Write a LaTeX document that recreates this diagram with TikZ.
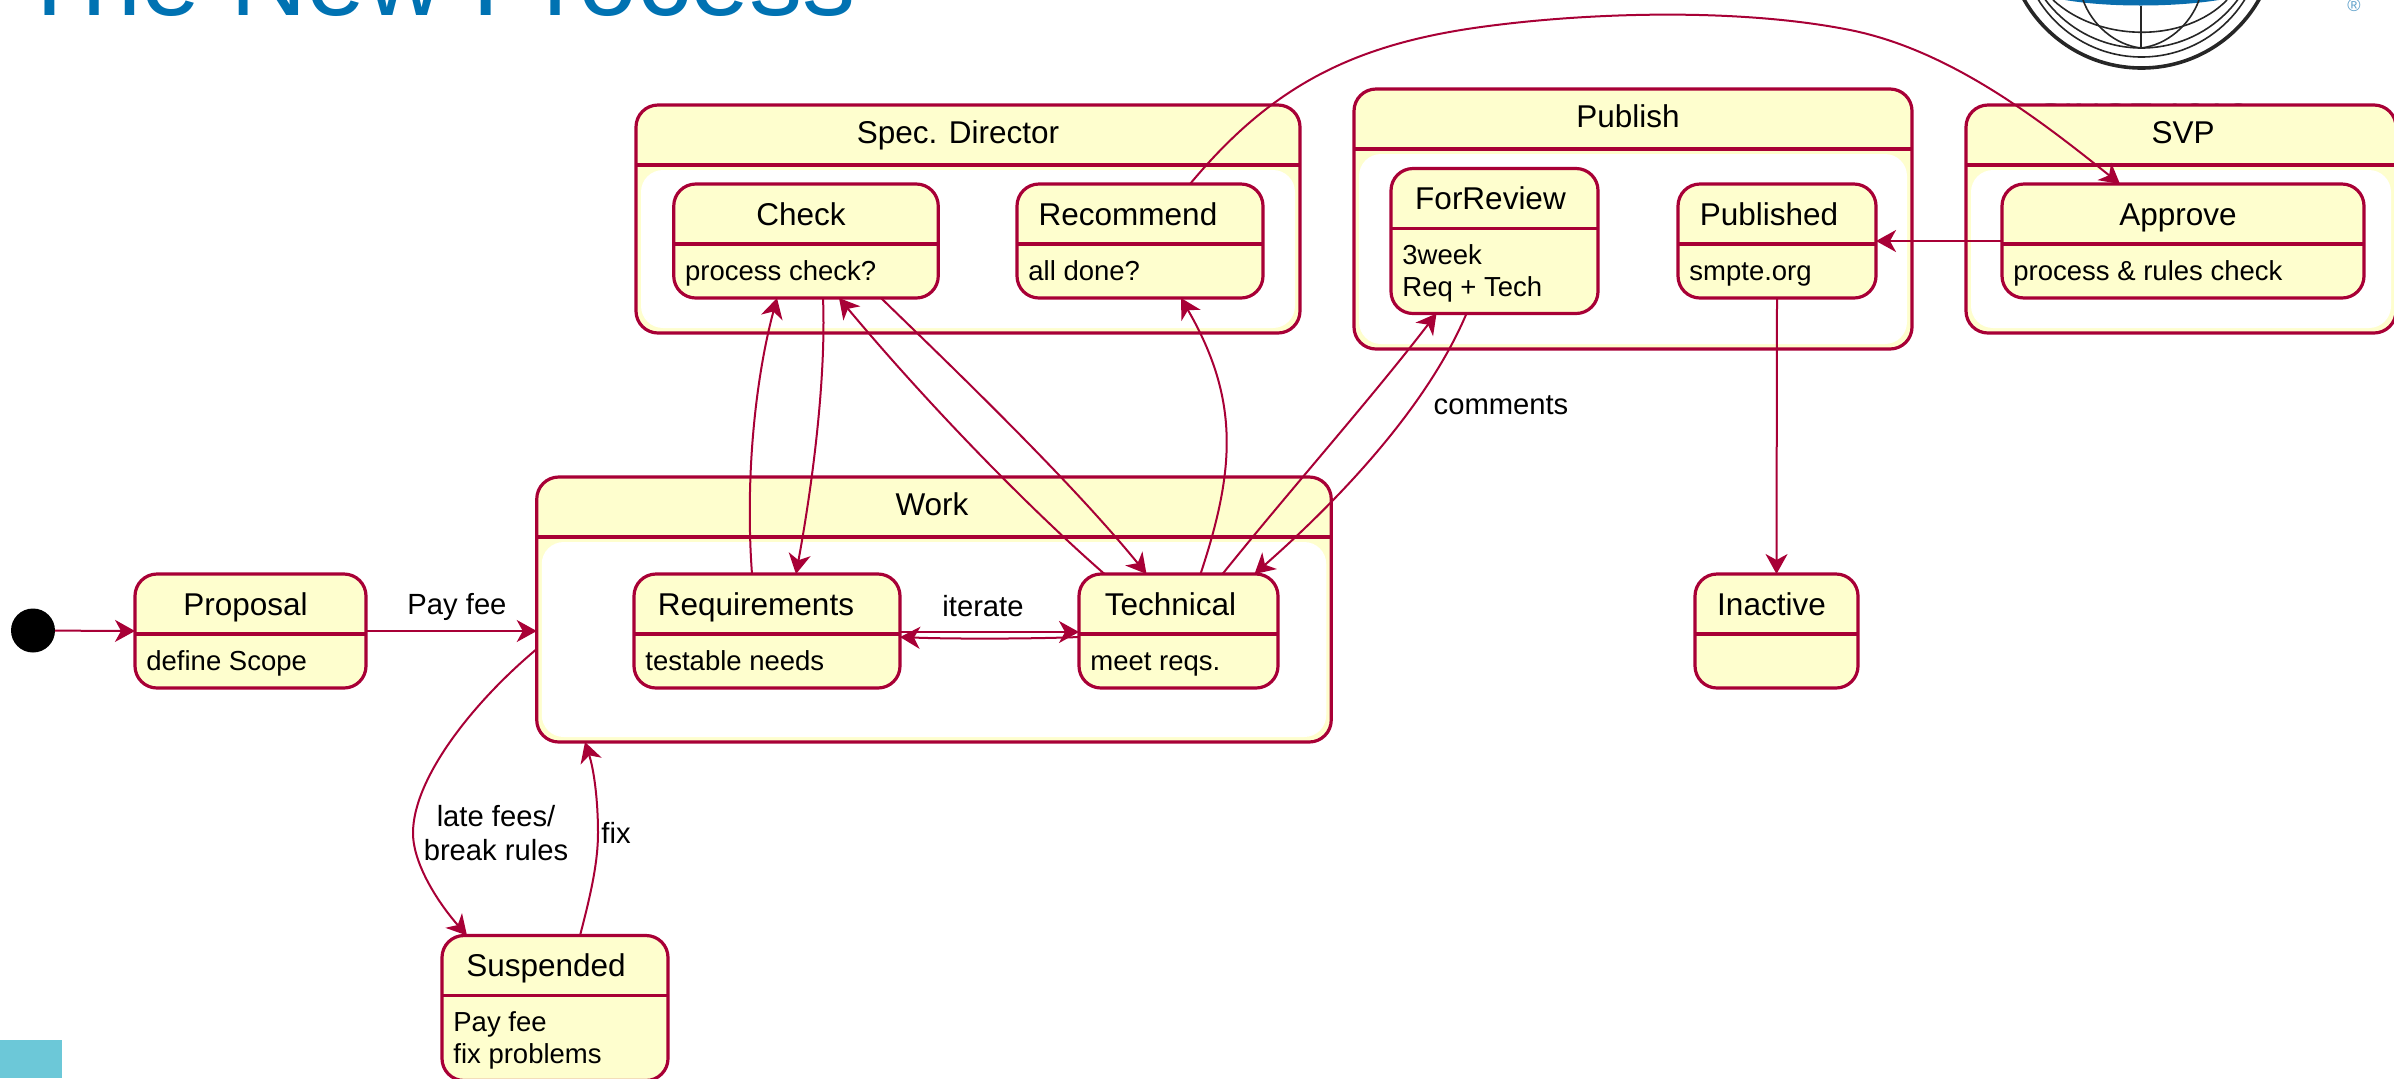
\documentclass[tikz,border=0pt]{standalone}
\usepackage{fontspec}
\usepackage{graphicx}
\setmainfont{Liberation Sans}
\usetikzlibrary{arrows.meta}

\definecolor{stateline}{HTML}{A80036}
\definecolor{statefill}{HTML}{FEFECE}
\definecolor{titleblue}{RGB}{0,114,178}
\definecolor{logoblue}{RGB}{10,110,174}
\definecolor{cornerteal}{RGB}{108,200,216}

\tikzset{
    outerbox/.style={draw=stateline, fill=statefill, line width=1.6pt, rounded corners=11pt,
        inner sep=0pt, outer sep=0pt},
    innerbox/.style={fill=white, rounded corners=11pt, inner sep=0pt, outer sep=0pt},
    headline/.style={draw=stateline, line width=1.6pt},
    nametext/.style={font=\fontsize{15.75}{18}\selectfont, inner sep=0pt, anchor=base},
    desctext/.style={font=\fontsize{13.75}{16}\selectfont, inner sep=0pt, anchor=north west, align=left},
    edgetext/.style={font=\fontsize{14.6}{17}\selectfont, inner sep=0pt, align=center},
    edge/.style={draw=stateline, line width=1pt, -{Stealth[length=10pt,width=11pt,inset=3pt]}},
    logoline/.style={draw=black!85, line width=0.8pt}
}

\begin{document}
\begin{tikzpicture}[x=0.5pt, y=-0.5pt]

    \useasboundingbox (0,0) rectangle (2394,1078);
    \clip (0,0) rectangle (2394,1078);

    % Slide leftovers
    \node[font=\fontsize{53.1}{60}\selectfont, text=titleblue, inner sep=0pt, anchor=base west] (slidetitle) at (17.5,15) {The New Process};
    \fill[cornerteal] (0,1040) rectangle (62,1078);

    % Logo, top right
    \fill[logoblue] (2055,-2) .. controls (2100,8) and (2180,8) .. (2230,-2) -- cycle;
    \draw[logoline, line width=1.8pt] (2141.5,-67) circle (135);
    \draw[logoline] (2141.5,-64.6) circle (121.6);
    \draw[logoline] (2141.5,-72) circle (120);
    \draw[logoline] (2053,0) .. controls (2100,43) and (2185,43) .. (2227,0);
    \draw[logoline] (2083,0) .. controls (2092,25) and (2115,45) .. (2141,48);
    \draw[logoline] (2199,0) .. controls (2190,25) and (2167,45) .. (2141,48);
    \draw[logoline] (2141,6) -- (2141,48);
    \node[font=\fontsize{9}{10}\selectfont, text=logoblue!65, inner sep=0pt] (logomark) at (2354,5) {®};
    \node[font=\fontsize{13.5}{16}\selectfont, text=black!60, inner sep=0pt, anchor=base] (logosince) at (2143,122) {\scalebox{1.4}[1]{SINCE 1916}};

    % Composite states
    \foreach \id/\cx/\cy/\bw/\bh/\nx/\statename in {
        spec/968/219/664/228/-10/Spec. Director,
        publish/1633/219/558/260/-5/Publish,
        svp/2181/219/430/228/2/SVP,
        work/934/609.5/794.5/265/-2/Work} {
        \node[outerbox, minimum width=\bw*0.5pt, minimum height=\bh*0.5pt] (\id) at (\cx,\cy) {};
        \node[innerbox, minimum width=(\bw-10)*0.5pt, minimum height=(\bh-70)*0.5pt, anchor=south] (\id-in) at ([yshift=2.5pt]\id.south) {};
        \draw[headline] ([yshift=-30pt]\id.north west) -- ([yshift=-30pt]\id.north east);
        \node[nametext] (\id-name) at ([xshift=\nx*0.5pt, yshift=-19pt]\id.north) {\statename};
    }

    % Simple states
    \foreach \id/\cx/\cy/\bw/\bh/\nx/\statename/\statetext in {
        proposal/250.5/631/231/114/-5/Proposal/{define Scope},
        req/767/631/266/114/-11/Requirements/{testable needs},
        tech/1178.5/631/199/114/-8/Technical/{meet reqs.},
        check/806/241/264.5/114/-5/Check/{process check?},
        recommend/1140/241/246/114/-12/Recommend/{all done?},
        forreview/1494.5/241/207/145/-4/ForReview/{3week\\Req + Tech},
        published/1777/241/198/114/-8/Published/{smpte.org},
        approve/2183/241/362/114/-5/Approve/{process \& rules check},
        inactive/1776.5/631/163/114/-5/Inactive/{},
        suspended/555/1008/226/145/-9/Suspended/{Pay fee\\fix problems}} {
        \node[outerbox, minimum width=\bw*0.5pt, minimum height=\bh*0.5pt] (\id) at (\cx,\cy) {};
        \draw[headline] ([yshift=-30pt]\id.north west) -- ([yshift=-30pt]\id.north east);
        \node[nametext] (\id-name) at ([xshift=\nx*0.5pt, yshift=-20.5pt]\id.north) {\statename};
        \node[desctext] (\id-desc) at ([xshift=5.5pt, yshift=-36.8pt]\id.north west) {\strut\statetext};
    }

    \node[circle, fill=black, minimum size=22pt, inner sep=0pt, outer sep=0pt] (init) at (33,630.5) {};

    % Transitions
    \draw[edge] (init) -- (proposal.west);
    \draw[edge] (proposal.east) -- (work.west |- proposal.east);
    \draw[edge] ([yshift=-0.5pt]req.east) -- ([yshift=-0.5pt]tech.west);
    \draw[edge] ([yshift=-3pt]tech.west) .. controls (1030,639) and (950,639) .. ([yshift=-3pt]req.east);
    \draw[edge] ([xshift=-7.5pt]req.north) .. controls (745,480) and (755,380) .. ([xshift=-14.5pt]check.south);
    \draw[edge] ([xshift=8.5pt]check.south) .. controls (826,370) and (815,470) .. ([xshift=14.5pt]req.north);
    \draw[edge] ([xshift=-37pt]tech.north) .. controls (1020,500) and (920,395) .. ([xshift=16.5pt]check.south);
    \draw[edge] ([xshift=37.5pt]check.south) .. controls (950,365) and (1070,480) .. ([xshift=-16pt]tech.north);
    \draw[edge] ([xshift=11pt]tech.north) .. controls (1235,470) and (1240,400) .. ([xshift=20.5pt]recommend.south);
    \draw[edge] ([xshift=22pt]tech.north) .. controls (1290,490) and (1370,400) .. ([xshift=-29pt]forreview.south);
    \draw[edge] ([xshift=-14pt]forreview.south) .. controls (1430,400) and (1350,490) .. ([xshift=38pt]tech.north);
    \draw[edge] ([xshift=25pt]recommend.north) .. controls (1270,88) and (1350,45) .. (1481,27)
        .. controls (1590,12) and (1740,8) .. (1850,30)
        .. controls (1950,50) and (2040,120) .. ([xshift=-31.5pt]approve.north);
    \draw[edge] (approve.west) -- (published.east);
    \draw[edge] (published.south) -- (inactive.north);
    \draw[edge] ([yshift=-9pt]work.west |- proposal.east) .. controls (470,705) and (413,780) .. (413,833)
        .. controls (413,865) and (440,905) .. ([xshift=-44pt]suspended.north);
    \draw[edge] ([xshift=12.5pt]suspended.north) .. controls (592,890) and (598,860) .. (598,833)
        .. controls (598,800) and (594,770) .. ([xshift=-174.5pt]work.south);

    % Transition labels
    \node[edgetext] (payfee) at (457,607) {Pay fee};
    \node[edgetext] (iterate) at (983,606) {iterate};
    \node[edgetext] (comments) at (1501,405) {comments};
    \node[edgetext] (latefees) at (496,833) {late fees/\\break rules};
    \node[edgetext] (fixlabel) at (616,833) {fix};

\end{tikzpicture}
\end{document}
